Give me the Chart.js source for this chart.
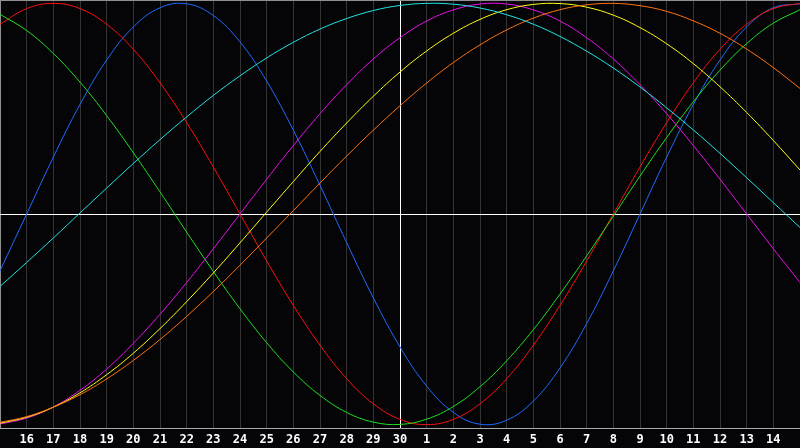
<!DOCTYPE html>
<html lang="en">
<head>
    <meta charset="UTF-8">
    <title>Biorhythm</title>
    <script src="https://cdn.jsdelivr.net/npm/chart.js"></script>
    <style>
        html, body { margin: 0; padding: 0; background: #050508; overflow: hidden; }
        #chart { display: block; }
    </style>
</head>
<body>
    <canvas id="chart" width="800" height="448"></canvas>

    <script>
        // day labels, first and last grid lines are the edges (no label)
        const days = ['', '16', '17', '18', '19', '20', '21', '22', '23', '24', '25', '26', '27', '28', '29', '30',
            '1', '2', '3', '4', '5', '6', '7', '8', '9', '10', '11', '12', '13', '14', ''];

        const physical = [-0.270, 0, 0.270, 0.520, 0.731, 0.888, 0.979, 0.998, 0.942, 0.817, 0.631, 0.398, 0.136,
            -0.136, -0.398, -0.631, -0.817, -0.942, -0.998, -0.979, -0.888, -0.731, -0.520, -0.270, 0,
            0.270, 0.520, 0.731, 0.888, 0.979, 0.998];
        const emotional = [0.901, 0.975, 1.000, 0.975, 0.901, 0.782, 0.623, 0.434, 0.223, 0, -0.223, -0.434, -0.623,
            -0.782, -0.901, -0.975, -1.000, -0.975, -0.901, -0.782, -0.623, -0.434, -0.223, 0,
            0.223, 0.434, 0.623, 0.782, 0.901, 0.975, 1.000];
        const intellectual = [0.948, 0.871, 0.762, 0.626, 0.467, 0.291, 0.105, -0.086, -0.273, -0.450, -0.611, -0.750,
            -0.861, -0.942, -0.988, -0.999, -0.974, -0.914, -0.820, -0.697, -0.549, -0.380, -0.199, -0.010,
            0.180, 0.363, 0.533, 0.683, 0.809, 0.906, 0.970];
        const intuitive = [-0.997, -0.969, -0.916, -0.837, -0.736, -0.614, -0.476, -0.325, -0.165, 0, 0.165, 0.325,
            0.476, 0.614, 0.736, 0.837, 0.916, 0.969, 0.997, 0.997, 0.969, 0.916, 0.837, 0.736, 0.614,
            0.476, 0.325, 0.165, 0, -0.165, -0.325];
        const aesthetic = [-0.993, -0.965, -0.917, -0.849, -0.763, -0.661, -0.544, -0.416, -0.280, -0.137, 0.009, 0.154,
            0.297, 0.432, 0.559, 0.674, 0.774, 0.858, 0.924, 0.970, 0.995, 0.999, 0.982, 0.944, 0.885,
            0.808, 0.714, 0.604, 0.482, 0.349, 0.209];
        const awareness = [-0.989, -0.962, -0.917, -0.858, -0.783, -0.695, -0.596, -0.486, -0.368, -0.243, -0.114, 0.016,
            0.147, 0.275, 0.398, 0.514, 0.622, 0.719, 0.803, 0.874, 0.930, 0.970, 0.993, 1.000, 0.989,
            0.962, 0.917, 0.858, 0.783, 0.695, 0.596];
        const spiritual = [-0.344, -0.230, -0.114, 0.005, 0.123, 0.240, 0.353, 0.461, 0.563, 0.656, 0.741, 0.815,
            0.878, 0.928, 0.966, 0.990, 1.000, 0.996, 0.978, 0.946, 0.901, 0.843, 0.773, 0.693, 0.603,
            0.504, 0.399, 0.288, 0.172, 0.054, -0.064];

        const todayIndex = 15;   // the '30' line

        const series = [
            { label: 'Spiritual', data: spiritual, color: '#22e4e4' },
            { label: 'Awareness', data: awareness, color: '#ff7410' },
            { label: 'Aesthetic', data: aesthetic, color: '#ffff10' },
            { label: 'Intuitive', data: intuitive, color: '#f010f0' },
            { label: 'Intellectual', data: intellectual, color: '#22e022' },
            { label: 'Emotional', data: emotional, color: '#ff1010' },
            { label: 'Physical', data: physical, color: '#1e6cff' },
        ];

        const ctx = document.getElementById('chart').getContext('2d');
        new Chart(ctx, {
            type: 'line',
            data: {
                labels: days,
                datasets: series.map(s => ({
                    label: s.label,
                    data: s.data,
                    borderColor: s.color,
                    borderWidth: 1,
                    pointRadius: 0,
                    pointHoverRadius: 0,
                    tension: 0.4,
                    fill: false,
                }))
            },
            options: {
                responsive: false,
                animation: false,
                layout: { padding: 0, autoPadding: false },
                plugins: { legend: { display: false }, tooltip: { enabled: false } },
                scales: {
                    x: {
                        offset: false,
                        grid: {
                            drawTicks: false,
                            color: c => c.index === todayIndex ? '#ffffff' : (c.index === 0 ? '#909090' : '#343434'),
                            lineWidth: 1,
                        },
                        border: { display: true, color: '#a8a8a8', width: 1 },
                        ticks: {
                            autoSkip: false,
                            maxRotation: 0,
                            padding: 5,
                            color: '#ffffff',
                            font: { family: 'DejaVu Sans Mono', size: 12, weight: 'bold' },
                        },
                        afterFit: scale => {
                            scale.height = 20;
                            scale.paddingLeft = 0;
                            scale.paddingRight = 0;
                        },
                    },
                    y: {
                        min: -1.016,
                        max: 1.016,
                        afterBuildTicks: scale => {
                            scale.ticks = [{ value: 0 }, { value: 1.016 }];
                        },
                        grid: {
                            drawTicks: false,
                            color: c => c.tick.value === 0 ? '#ffffff' : '#909090',
                        },
                        border: { display: false },
                        ticks: { display: false },
                        afterFit: scale => { scale.width = 0; },
                    }
                }
            }
        });
    </script>
</body>
</html>
